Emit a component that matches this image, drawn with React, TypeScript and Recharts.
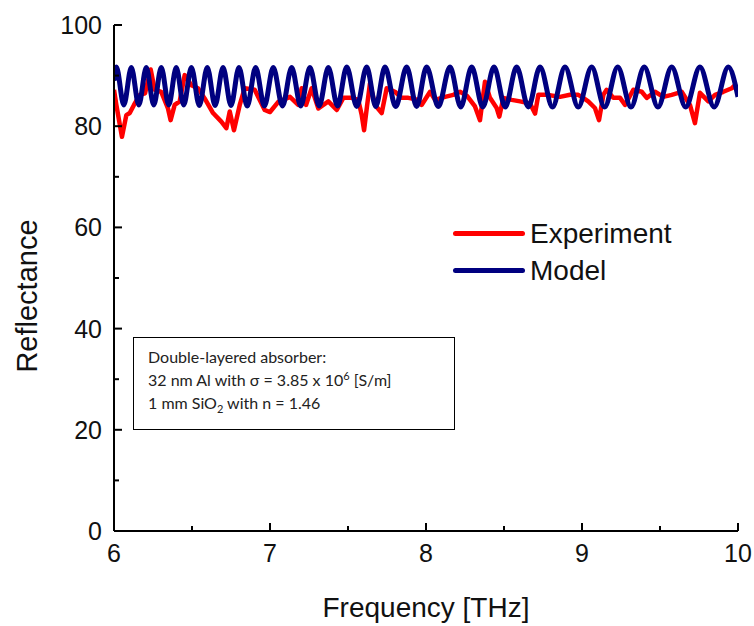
import { Legend, Line, LineChart, XAxis, YAxis } from "recharts";

const expFreq = [
  6.0, 6.015, 6.051, 6.079, 6.101, 6.128, 6.165, 6.199, 6.235, 6.261, 6.303,
  6.346, 6.363, 6.389, 6.421, 6.453, 6.496, 6.538, 6.581, 6.635, 6.688, 6.72,
  6.742, 6.769, 6.806, 6.838, 6.902, 6.966, 7.0, 7.053, 7.128, 7.181, 7.203,
  7.231, 7.267, 7.31, 7.374, 7.428, 7.47, 7.524, 7.566, 7.588, 7.603, 7.622,
  7.641, 7.673, 7.716, 7.748, 7.801, 7.844, 7.887, 7.951, 7.972, 8.026, 8.058,
  8.122, 8.175, 8.218, 8.263, 8.314, 8.346, 8.378, 8.41, 8.453, 8.47, 8.496,
  8.549, 8.603, 8.667, 8.699, 8.72, 8.774, 8.859, 8.923, 8.976, 8.998, 9.04,
  9.083, 9.109, 9.137, 9.158, 9.201, 9.244, 9.276, 9.329, 9.383, 9.415, 9.468,
  9.521, 9.575, 9.639, 9.692, 9.724, 9.756, 9.81, 9.853, 9.906, 9.96, 9.981,
  10.0,
];
const expRefl = [
  87.2, 84.2, 77.9, 82.2, 82.6, 84.2, 86.2, 86.5, 91.2, 87.2, 86.8,
  83.5, 81.2, 84.2, 84.9, 90.1, 88.1, 87.5, 85.5, 82.6, 80.9, 79.6,
  82.9, 79.2, 84.2, 87.5, 87.2, 83.2, 82.8, 84.8, 85.8, 84.2, 87.5,
  84.2, 87.5, 83.5, 84.9, 83.2, 85.6, 85.6, 85.2, 82.2, 79.2, 84.0,
  88.5, 84.2, 82.6, 87.5, 86.8, 85.6, 85.6, 85.2, 84.2, 86.8, 85.2,
  85.8, 86.2, 86.8, 86.0, 83.9, 81.2, 88.8, 85.6, 83.6, 81.9, 85.6,
  85.2, 84.9, 84.5, 82.5, 86.2, 86.2, 85.8, 86.2, 86.2, 85.8, 84.9,
  83.6, 81.2, 86.2, 87.2, 85.6, 85.6, 84.2, 87.2, 86.8, 85.6, 86.8,
  85.8, 86.2, 86.8, 84.2, 80.6, 86.6, 84.9, 86.2, 86.8, 87.5, 88.1,
  86.8,
];

// model fringes: extrema (peaks / troughs)
const modelFreq = [
  6.0, 6.015, 6.063, 6.111, 6.159, 6.207, 6.255, 6.303, 6.351, 6.399, 6.447,
  6.496, 6.547, 6.598, 6.648, 6.699, 6.75, 6.801, 6.854, 6.908, 6.964, 7.021,
  7.08, 7.139, 7.197, 7.256, 7.315, 7.374, 7.433, 7.492, 7.556, 7.62, 7.678,
  7.737, 7.806, 7.876, 7.94, 8.004, 8.079, 8.154, 8.223, 8.293, 8.364, 8.436,
  8.508, 8.581, 8.656, 8.731, 8.811, 8.891, 8.976, 9.062, 9.145, 9.229, 9.314,
  9.399, 9.487, 9.575, 9.665, 9.756, 9.847, 9.938, 10.0,
];
const modelRefl = [
  89.0, 91.7, 84.2, 91.6, 84.2, 91.6, 84.2, 91.6, 84.2, 91.6, 84.2,
  91.6, 84.1, 91.6, 84.1, 91.6, 84.1, 91.6, 84.0, 91.6, 84.0, 91.6,
  84.0, 91.6, 84.0, 91.6, 84.0, 91.6, 84.0, 91.7, 83.9, 91.7, 83.9,
  91.7, 83.9, 91.7, 83.9, 91.7, 83.9, 91.7, 83.8, 91.7, 83.8, 91.7,
  83.8, 91.7, 83.8, 91.7, 83.8, 91.7, 83.8, 91.7, 83.8, 91.7, 83.8,
  91.7, 83.8, 91.7, 83.8, 91.7, 83.8, 91.7, 85.8,
];

const xTicks = [6, 6.5, 7, 7.5, 8, 8.5, 9, 9.5, 10];
const xLabels = [6, 7, 8, 9, 10];
const yTicks = [0, 10, 20, 30, 40, 50, 60, 70, 80, 90, 100];
const yLabels = [0, 20, 40, 60, 80, 100];

const expData = expFreq.map((f, i) => ({ f, r: expRefl[i] }));
const modelData = modelFreq.map((f, i) => ({ f, r: modelRefl[i] }));

const FONT = "'Liberation Sans', Arial, sans-serif";
const INK = "#111";

const BottomTick = ({ x, y, payload }: any) => {
  const major = xLabels.includes(payload.value);
  return (
    <g>
      <line x1={x} y1={y} x2={x} y2={y - (major ? 8 : 5)} stroke="#000" strokeWidth={2} />
      {major && (
        <text x={x} y={y + 31} textAnchor="middle" fontSize={25} fontFamily={FONT} fill={INK}>
          {payload.value}
        </text>
      )}
    </g>
  );
};

const TopTick = ({ x, y, payload }: any) => {
  const major = xLabels.includes(payload.value);
  return <line x1={x} y1={y} x2={x} y2={y + (major ? 8 : 5)} stroke="#000" strokeWidth={2} />;
};

const LeftTick = ({ x, y, payload }: any) => {
  const major = yLabels.includes(payload.value);
  return (
    <g>
      <line x1={x} y1={y} x2={x + (major ? 8 : 5)} y2={y} stroke="#000" strokeWidth={2} />
      {major && (
        <text x={x - 12} y={y + 9} textAnchor="end" fontSize={25} fontFamily={FONT} fill={INK}>
          {payload.value}
        </text>
      )}
    </g>
  );
};

const RightTick = ({ x, y, payload }: any) => {
  const major = yLabels.includes(payload.value);
  return <line x1={x} y1={y} x2={x - (major ? 8 : 5)} y2={y} stroke="#000" strokeWidth={2} />;
};

const XTitle = ({ viewBox }: any) => (
  <text
    x={viewBox.x + viewBox.width / 2}
    y={viewBox.y + 86}
    textAnchor="middle"
    fontSize={28}
    fontFamily={FONT}
    fill={INK}
  >
    Frequency [THz]
  </text>
);

const YTitle = ({ viewBox }: any) => {
  const cx = viewBox.x + 37;
  const cy = viewBox.y + viewBox.height / 2 + 18;
  return (
    <text
      x={cx}
      y={cy}
      transform={`rotate(-90 ${cx} ${cy})`}
      textAnchor="middle"
      fontSize={29}
      fontFamily={FONT}
      fill={INK}
    >
      Reflectance
    </text>
  );
};

const renderLegend = ({ payload }: any) => (
  <div>
    {(payload || []).map((p: any) => (
      <div key={p.value} style={{ display: "flex", alignItems: "center", height: 37 }}>
        <div style={{ width: 72, height: 5, borderRadius: 3, background: p.color, marginRight: 5 }} />
        <span style={{ fontFamily: FONT, fontSize: 28, color: INK }}>{p.value}</span>
      </div>
    ))}
  </div>
);

export default function App() {
  const axisLine = { stroke: "#000", strokeWidth: 2 };
  return (
    <div style={{ position: "absolute", left: 0, top: 0, width: 754, height: 626, background: "#fff" }}>
      <LineChart width={754} height={626} margin={{ top: 25, right: 16, bottom: 0, left: 0 }}>
        <XAxis
          xAxisId="b"
          dataKey="f"
          type="number"
          domain={[6, 10]}
          ticks={xTicks}
          interval={0}
          height={95}
          tickSize={0}
          tickMargin={0}
          tick={<BottomTick />}
          tickLine={false}
          axisLine={axisLine}
          allowDataOverflow
          label={<XTitle />}
        />
        <XAxis
          xAxisId="t"
          orientation="top"
          type="number"
          domain={[6, 10]}
          ticks={xTicks}
          interval={0}
          height={0}
          tickSize={0}
          tickMargin={0}
          tick={<TopTick />}
          tickLine={false}
          axisLine={axisLine}
          allowDataOverflow
        />
        <YAxis
          yAxisId="l"
          type="number"
          domain={[0, 100]}
          ticks={yTicks}
          interval={0}
          width={114}
          tickSize={0}
          tickMargin={0}
          tick={<LeftTick />}
          tickLine={false}
          axisLine={axisLine}
          allowDataOverflow
          label={<YTitle />}
        />
        <YAxis
          yAxisId="r"
          orientation="right"
          type="number"
          domain={[0, 100]}
          ticks={yTicks}
          interval={0}
          width={0}
          tickSize={0}
          tickMargin={0}
          tick={<RightTick />}
          tickLine={false}
          axisLine={axisLine}
          allowDataOverflow
        />
        <Legend
          layout="vertical"
          align="center"
          verticalAlign="middle"
          content={renderLegend}
          wrapperStyle={{ left: 453, top: 215, width: 260 }}
        />
        <Line
          data={expData}
          dataKey="r"
          xAxisId="b"
          yAxisId="l"
          type="linear"
          stroke="#ff0000"
          strokeWidth={4.5}
          strokeLinejoin="round"
          dot={false}
          name="Experiment"
          isAnimationActive={false}
        />
        <Line
          data={modelData}
          dataKey="r"
          xAxisId="b"
          yAxisId="l"
          type="monotone"
          stroke="#000080"
          strokeWidth={5}
          dot={false}
          name="Model"
          isAnimationActive={false}
        />
      </LineChart>
      <div
        style={{
          position: "absolute",
          left: 133,
          top: 337,
          width: 322,
          height: 93,
          boxSizing: "border-box",
          border: "1.5px solid #000",
          background: "#fff",
          padding: "7px 0 0 14px",
          fontFamily: "Lato, 'Open Sans', sans-serif",
          fontSize: 16,
          lineHeight: "23px",
          color: "#222",
        }}
      >
        <div>Double-layered absorber:</div>
        <div>
          32 nm Al with σ = 3.85 x 10<sup style={{ fontSize: 11, lineHeight: 0 }}>6</sup> [S/m]
        </div>
        <div>
          1 mm SiO<sub style={{ fontSize: 11, lineHeight: 0 }}>2</sub> with n = 1.46
        </div>
      </div>
    </div>
  );
}
